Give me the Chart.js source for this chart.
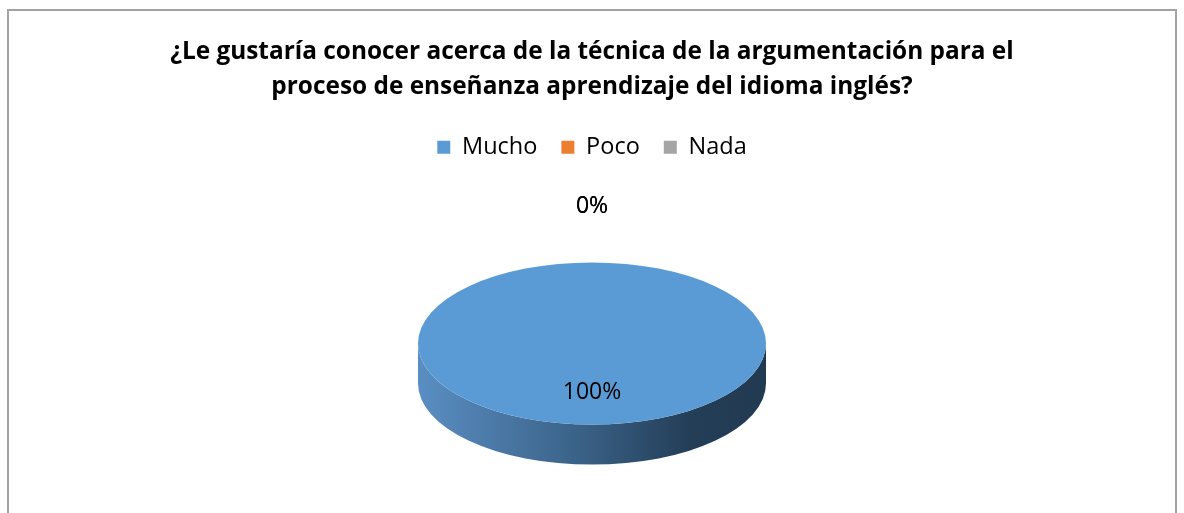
<!DOCTYPE html>
<html><head><meta charset="utf-8">
<script src="https://cdn.jsdelivr.net/npm/chart.js@4"></script>
<style>
html,body{margin:0;padding:0;background:#fff;overflow:hidden;width:1184px;height:513px}
#marco{position:absolute;left:7px;top:9px;width:1170px;height:600px;border:2px solid #a3a3a3;box-sizing:border-box}
#caja{position:absolute;left:0;top:0;width:1184px;height:560px}
</style></head><body>
<div id="marco"></div>
<div id="caja"><canvas id="grafico" width="1184" height="560"></canvas></div>
<script>
const titulo = ['¿Le gustaría conocer acerca de la técnica de la argumentación para el',
                'proceso de enseñanza aprendizaje del idioma inglés?'];
const categorias = ['Mucho','Poco','Nada'];
const valores = [100, 0, 0];
const colores = ['#5b9bd5','#ed7d31','#a5a5a5'];

const aplanar = 0.466;   // alto/ancho de la elipse
const grosor = 40;       // espesor del disco
const fuente = '"Open Sans", Lato, sans-serif';

// dibuja el pie como un disco 3D achatado
const pie3d = {
  id:'pie3d',
  beforeDatasetsDraw(chart){
    let a = chart.getDatasetMeta(0).data[0];
    let x=a.x, y=a.y, r=a.outerRadius, ctx=chart.ctx;
    ctx.save();
    let g = ctx.createLinearGradient(x-r,0,x+r,0);
    g.addColorStop(0,'#5a8ec3');
    g.addColorStop(0.45,'#3b6389');
    g.addColorStop(0.78,'#243e58');
    g.addColorStop(1,'#223a51');
    ctx.fillStyle=g;
    ctx.beginPath();
    ctx.ellipse(x,y,r,r*aplanar,0,0,Math.PI);
    ctx.lineTo(x-r,y+grosor);
    ctx.ellipse(x,y+grosor,r,r*aplanar,0,Math.PI,0,true);
    ctx.closePath();
    ctx.fill();
    ctx.translate(0,y); ctx.scale(1,aplanar); ctx.translate(0,-y);
  },
  afterDatasetsDraw(chart){
    let ctx=chart.ctx;
    ctx.restore();
    let meta=chart.getDatasetMeta(0);
    let total=valores.reduce((s,v)=>s+v,0);
    ctx.save();
    ctx.font='23px '+fuente;
    ctx.fillStyle='#000';
    ctx.textAlign='center'; ctx.textBaseline='middle';
    meta.data.forEach((a,i)=>{
      let p=a.getProps(['x','y','startAngle','endAngle','outerRadius']);
      let mid=(p.startAngle+p.endAngle)/2, r=p.outerRadius, px, py;
      if(valores[i]>0){
        px=p.x+Math.cos(mid)*r*0.6; py=p.y+Math.sin(mid)*r*0.6*aplanar;
      } else {
        px=p.x+Math.cos(mid)*(r+56); py=p.y+Math.sin(mid)*(r*aplanar+56);
      }
      ctx.fillText(Math.round(valores[i]/total*100)+'%',px,py);
    });
    ctx.restore();
  }
};

new Chart(document.getElementById('grafico'),{
  type:'pie',
  data:{labels:categorias, datasets:[{data:valores, backgroundColor:colores, borderWidth:0}]},
  options:{
    responsive:false, animation:false, devicePixelRatio:1,
    radius:174,
    layout:{padding:{top:16,bottom:42}},
    plugins:{
      title:{display:true, text:titulo, color:'#000', padding:{top:18,bottom:7},
        font:{family:fuente, size:24.4, weight:'bold', lineHeight:1.445}},
      legend:{position:'top', labels:{color:'#000', boxWidth:13, boxHeight:13, padding:24,
        font:{family:fuente, size:23.5}}},
      tooltip:{enabled:false}
    }
  },
  plugins:[pie3d]
});
</script>
</body></html>
